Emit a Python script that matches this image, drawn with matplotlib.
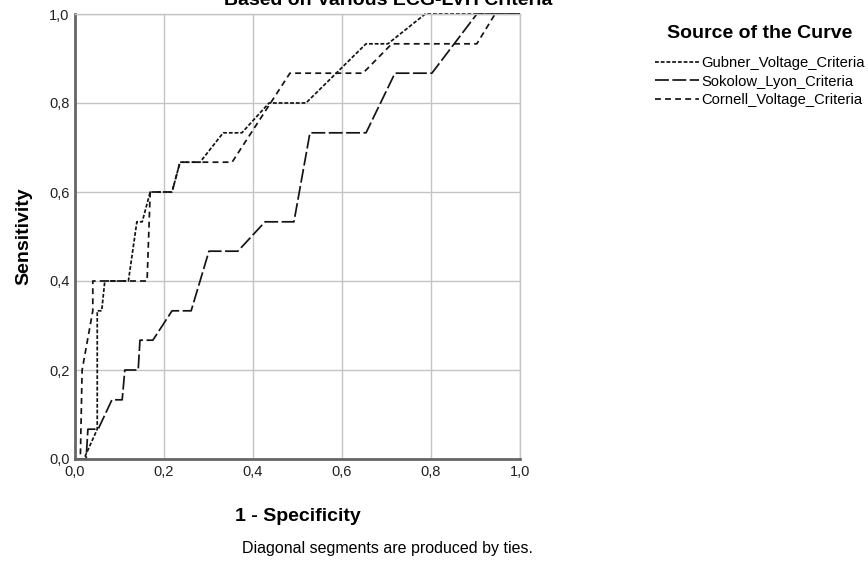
import matplotlib
matplotlib.use("Agg")
import matplotlib.pyplot as plt

plt.rcParams['font.family'] = ['Liberation Sans', 'DejaVu Sans']

# ---- data (1 - specificity, sensitivity) ----
gubner_x = [0.0, 0.02, 0.05, 0.05, 0.06, 0.067, 0.12, 0.139, 0.151, 0.169, 0.218, 0.236,
            0.281, 0.333, 0.375, 0.436, 0.519, 0.654, 0.703, 0.787, 1.0]
gubner_y = [0.0, 0.0, 0.067, 0.333, 0.333, 0.4, 0.4, 0.533, 0.533, 0.6, 0.6, 0.667,
            0.667, 0.733, 0.733, 0.8, 0.8, 0.933, 0.933, 1.0, 1.0]

sokolow_x = [0.0, 0.025, 0.029, 0.052, 0.083, 0.106, 0.112, 0.142, 0.146, 0.175, 0.218,
             0.261, 0.301, 0.366, 0.427, 0.492, 0.528, 0.654, 0.719, 0.802, 0.903, 1.0]
sokolow_y = [0.0, 0.0, 0.067, 0.067, 0.133, 0.133, 0.2, 0.2, 0.267, 0.267, 0.333,
             0.333, 0.467, 0.467, 0.533, 0.533, 0.733, 0.733, 0.867, 0.867, 1.0, 1.0]

cornell_x = [0.0, 0.012, 0.016, 0.04, 0.04, 0.162, 0.169, 0.218, 0.236, 0.353, 0.483,
             0.647, 0.712, 0.903, 0.944, 1.0]
cornell_y = [0.0, 0.0, 0.2, 0.333, 0.4, 0.4, 0.6, 0.6, 0.667, 0.667, 0.867,
             0.867, 0.933, 0.933, 1.0, 1.0]

series_names = ["Gubner_Voltage_Criteria", "Sokolow_Lyon_Criteria", "Cornell_Voltage_Criteria"]
tick_vals = [0.0, 0.2, 0.4, 0.6, 0.8, 1.0]
tick_labels = ["0,0", "0,2", "0,4", "0,6", "0,8", "1,0"]

W, H = 868, 562
fig = plt.figure(figsize=(W / 100, H / 100), dpi=100)
ax = fig.add_axes([75 / W, 1 - 459 / H, 445 / W, 445 / H])

lw = 1.25
col = "#141414"
l1, = ax.plot(gubner_x, gubner_y, color=col, lw=lw, linestyle=(0, (2.2, 1.1)),
              label=series_names[0], clip_on=False)
l2, = ax.plot(sokolow_x, sokolow_y, color=col, lw=lw, linestyle=(0, (8, 2.0)),
              label=series_names[1], clip_on=False)
l3, = ax.plot(cornell_x, cornell_y, color=col, lw=lw, linestyle=(0, (3.4, 2.4)),
              label=series_names[2], clip_on=False)

ax.set_xlim(0, 1)
ax.set_ylim(0, 1)
ax.set_xticks(tick_vals)
ax.set_xticklabels(tick_labels)
ax.set_yticks(tick_vals)
ax.set_yticklabels(tick_labels)
ax.tick_params(length=0, labelsize=10.5, colors="#222222", pad=4)
ax.grid(True, color="#c4c4c4", lw=1.0)
ax.set_axisbelow(True)
for s in ["top", "right"]:
    ax.spines[s].set_color("#c4c4c4")
    ax.spines[s].set_linewidth(1.0)
for s in ["left", "bottom"]:
    ax.spines[s].set_color("#666666")
    ax.spines[s].set_linewidth(2.0)

ax.set_xlabel("1 - Specificity", fontsize=14, fontweight="bold", labelpad=21)
ax.set_ylabel("Sensitivity", fontsize=14, fontweight="bold", labelpad=12)

fig.text(388 / W, 1 - 5 / H, "Based on Various ECG-LVH Criteria", fontsize=14,
         fontweight="bold", ha="center", va="baseline")

fig.text(388 / W, 1 - 548 / H, "Diagonal segments are produced by ties.", fontsize=11.5,
         ha="center", va="center")

leg = fig.legend(handles=[l1, l2, l3], loc="upper left",
                 bbox_to_anchor=(655 / W, 1 - 25 / H), frameon=False,
                 title="Source of the Curve", fontsize=10.6, handlelength=3.0,
                 handletextpad=0.15, labelspacing=0.32, borderpad=0, borderaxespad=0)
leg.get_title().set_fontweight("bold")
leg.get_title().set_fontsize(14)
leg._legend_box.sep = 10

fig.savefig("out.png", dpi=100)
